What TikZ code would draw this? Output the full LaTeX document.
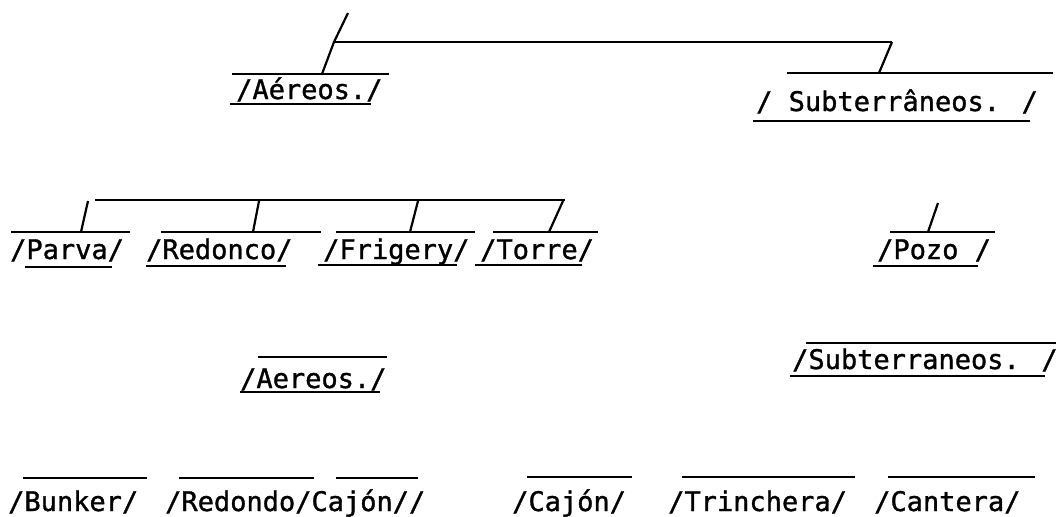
\documentclass[tikz,border=0pt]{standalone}
\usepackage{fontspec}
\newfontfamily\tw[FakeBold=1.2]{DejaVu Sans Mono}
\begin{document}
\begin{tikzpicture}[x=1pt,y=-1pt,
  lbl/.style={anchor=base west, inner sep=0pt, font=\tw\fontsize{27}{30}\selectfont},
  rule/.style={line width=1.8pt},
  tickln/.style={line width=2.2pt}]
\useasboundingbox (0,0) rectangle (1061,517);
% ---------- row 0 : top bracket
\coordinate (t0) at (348,13);
\coordinate (hl) at (334,42);
\coordinate (hr) at (892,42);
\coordinate (a1o) at (322,74);
\coordinate (s1o) at (879,73);
\draw[rule] (hl) -- (hr);
\draw[tickln] (t0) -- (hl) -- (a1o);
\draw[tickln] (hr) -- (s1o);
% ---------- row 1
\node[lbl] (aer1) at (236,99) {/Aéreos./};
\draw[rule] (232,74) -- (389,74);
\draw[rule] (230,104) -- (371,104);
\node[lbl] (sub1) at (756,111) {/ Subterrâneos. /};
\draw[rule] (787,73) -- (1053,73);
\draw[rule] (753,121) -- (1030,121);
% ---------- row 2 bracket
\coordinate (b2l) at (95,200);
\coordinate (b2r) at (565,200);
\draw[rule] (b2l) -- (b2r);
\coordinate (p2) at (88,201);  \coordinate (p2o) at (81,232);
\coordinate (r2) at (259,201); \coordinate (r2o) at (253,232);
\coordinate (f2) at (418,201); \coordinate (f2o) at (410,232);
\coordinate (o2) at (563,201); \coordinate (o2o) at (549,232);
\coordinate (z2) at (938,203); \coordinate (z2o) at (928,232);
\draw[tickln] (p2) -- (p2o);
\draw[tickln] (r2) -- (r2o);
\draw[tickln] (f2) -- (f2o);
\draw[tickln] (o2) -- (o2o);
\draw[tickln] (z2) -- (z2o);
% ---------- row 2 labels
\node[lbl] (parva) at (10,259) {/Parva/};
\draw[rule] (11,232) -- (130,232);
\draw[rule] (25,267) -- (112,267);
\node[lbl] (redonco) at (146,259) {/Redonco/};
\draw[rule] (161,232) -- (321,232);
\draw[rule] (146,266) -- (286,266);
\node[lbl] (frigery) at (323,259) {/Frigery/};
\draw[rule] (336,232) -- (475,232);
\draw[rule] (318,265) -- (457,265);
\node[lbl] (torre) at (480,259) {/Torre/};
\draw[rule] (493,232) -- (598,232);
\draw[rule] (475,265) -- (582,265);
\node[lbl] (pozo) at (877,259) {/Pozo /};
\draw[rule] (890,232) -- (995,232);
\draw[rule] (873,266) -- (978,266);
% ---------- row 3
\node[lbl] (aer3) at (240,388) {/Aereos./};
\draw[rule] (258,357) -- (387,357);
\draw[rule] (240,392) -- (380,392);
\node[lbl] (sub3) at (792,369) {/Subterraneos. /};
\draw[rule] (806,343) -- (1056,343);
\draw[rule] (790,376) -- (1045,376);
% ---------- row 4
\node[lbl] (bunker) at (8,511) {/Bunker/};
\draw[rule] (23,478) -- (147,478);
\node[lbl] (redcaj) at (165,511) {/Redondo/Cajón//};
\draw[rule] (179,478) -- (314,478);
\draw[rule] (336,478) -- (418,478);
\node[lbl] (cajon) at (512,511) {/Cajón/};
\draw[rule] (527,477) -- (632,477);
\node[lbl] (trinch) at (668,511) {/Trinchera/};
\draw[rule] (682,477) -- (855,477);
\node[lbl] (cantera) at (874,511) {/Cantera/};
\draw[rule] (888,477) -- (1035,477);
\end{tikzpicture}
\end{document}
